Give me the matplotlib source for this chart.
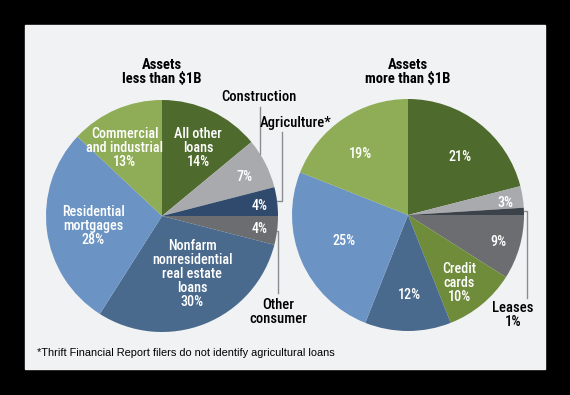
import numpy as np
import matplotlib
matplotlib.use("Agg")
import matplotlib.pyplot as plt
from matplotlib.patches import Rectangle

# data: slices go clockwise from 12 o'clock
small_labels = ["All other\nloans\n14%", "7%", "4%", "4%",
                "Nonfarm\nnonresidential\nreal estate\nloans\n30%",
                "Residential\nmortgages\n28%", "Commercial\nand industrial\n13%"]
small_values = [14, 7, 4, 4, 30, 28, 13]
small_colors = ["#4e6a2c", "#a8aaad", "#2f4a6c", "#6c6d70", "#4a6a8d", "#6b94c4", "#8fac56"]

big_labels = ["21%", "3%", "", "9%", "Credit\ncards\n10%", "12%", "25%", "19%"]
big_values = [21, 3, 1, 9, 10, 12, 25, 19]
big_colors = ["#4e6a2c", "#a8aaad", "#3c4249", "#6c6d70", "#6f8c3a", "#4a6a8d", "#6b94c4", "#8fac56"]

# label positions inside slices (fraction of radius)
small_pos = [(0.31, 0.59), (0.71, 0.34), (0.84, 0.09), (0.84, -0.11),
             (0.26, -0.50), (-0.59, -0.09), (-0.32, 0.59)]
big_pos = [(0.45, 0.50), (0.84, 0.10), (0, 0), (0.78, -0.23),
           (0.44, -0.59), (0.01, -0.69), (-0.55, -0.22), (-0.41, 0.53)]

H = 395
font = ["Roboto Condensed", "DejaVu Sans"]

fig = plt.figure(figsize=(5.7, 3.95), dpi=100, facecolor="black")
ax = fig.add_axes([0, 0, 1, 1])
ax.set_xlim(0, 570)
ax.set_ylim(0, H)
ax.set_aspect("equal")
ax.axis("off")

ax.add_patch(Rectangle((25, H - 369), 520, 344, color="#f1f2f4", zorder=0))

R = 116
centers = [(162, H - 216), (408, H - 215)]


def draw_pie(c, values, colors, labels, pos):
    wedges, _ = ax.pie(values, colors=colors, startangle=90, counterclock=False,
                       center=c, radius=R, wedgeprops=dict(linewidth=0), frame=True)
    for lab, (px, py) in zip(labels, pos):
        if lab:
            ax.text(c[0] + px * R, c[1] + py * R, lab, color="white", ha="center",
                    va="center", fontsize=10.2, family=font, fontweight=500,
                    linespacing=1.0)
    return wedges


w1 = draw_pie(centers[0], small_values, small_colors, small_labels, small_pos)
w2 = draw_pie(centers[1], big_values, big_colors, big_labels, big_pos)
ax.set_xlim(0, 570)
ax.set_ylim(0, H)
ax.axis("off")

for c, t in zip(centers, ["Assets\nless than $1B", "Assets\nmore than $1B"]):
    ax.text(c[0], H - 72, t, ha="center", va="center", fontsize=10.5,
            fontweight="bold", family=font, linespacing=1.0)


def mid_point(w, c):
    a = np.deg2rad((w.theta1 + w.theta2) / 2)
    return c[0] + R * np.cos(a), c[1] + R * np.sin(a)


lc = "#8a8c8f"
# Construction: vertical line down to the slice edge
cx, cy = centers[0]
x = 260
ax.plot([x, x], [H - 107, cy + np.sqrt(R ** 2 - (x - cx) ** 2)], color=lc, lw=1)
ax.text(259, H - 97, "Construction", ha="center", va="center", fontsize=10.5,
        family=font, fontweight=500)

# Agriculture
px, py = mid_point(w1[2], centers[0])
ax.plot([px, 282, 282], [py, py, H - 132], color=lc, lw=1)
ax.text(296, H - 123, "Agriculture*", ha="center", va="center", fontsize=10.5,
        family=font, fontweight=500)

# Other consumer
px, py = mid_point(w1[3], centers[0])
ax.plot([px, 278, 278], [py, py, H - 293], color=lc, lw=1)
ax.text(278, H - 312, "Other\nconsumer", ha="center", va="center", fontsize=10.5,
        family=font, fontweight=500, linespacing=1.0)

# Leases
px, py = mid_point(w2[2], centers[1])
ax.plot([px, 527, 527], [py, py, H - 298], color=lc, lw=1)
ax.text(513, H - 315, "Leases\n1%", ha="center", va="center", fontsize=10.5,
        family=font, fontweight=500, linespacing=1.0)

ax.text(37, H - 353, "*Thrift Financial Report filers do not identify agricultural loans",
        ha="left", va="center", fontsize=7.9, family=["Liberation Sans", "DejaVu Sans"])

fig.savefig("out.png", dpi=100, facecolor="black")
